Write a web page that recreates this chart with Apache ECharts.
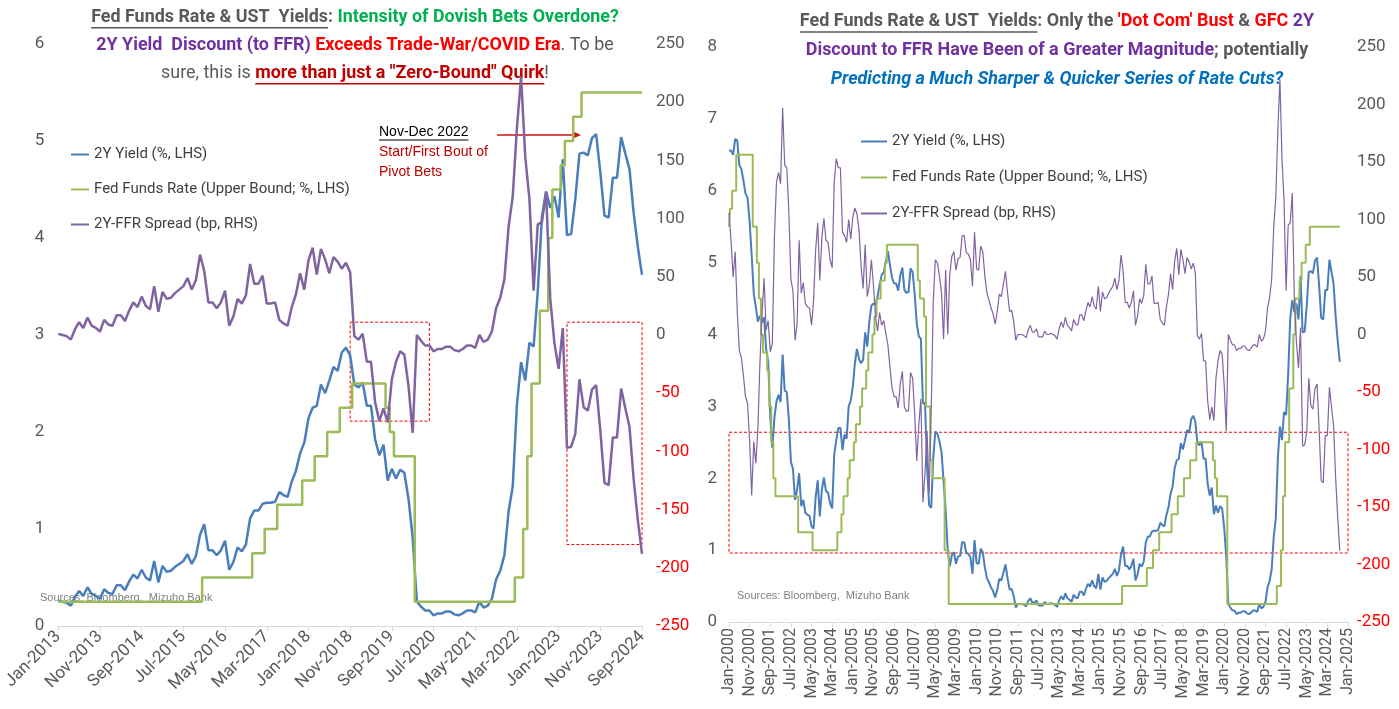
<!DOCTYPE html>
<html><head><meta charset="utf-8">
<script src="https://cdn.jsdelivr.net/npm/echarts@6/dist/echarts.min.js"></script>
<style>html,body{margin:0;padding:0;background:#fff}#c{width:1399px;height:709px}</style>
</head><body><div id="c"></div>
<script>
// ---------- tick labels / categories ----------
const monthAbbr = ['Jan','Feb','Mar','Apr','May','Jun','Jul','Aug','Sep','Oct','Nov','Dec'];
const firstYear = 2000, lastYear = 2025;
const monthsAll = [];
for (let y = firstYear; y <= lastYear; y++) for (let m = 0; m < 12; m++) {
  if (y === lastYear && m > 0) break;
  monthsAll.push(monthAbbr[m] + '-' + y);
}
const leftStart = 'Jan-2013', leftEnd = 'Sep-2024';

// ---------- data (monthly, Jan-2000 .. Sep-2024) ----------
const ust2y = [
6.56,6.56,6.50,6.72,6.70,6.36,6.30,6.14,5.96,5.90,5.57,5.10,
4.57,4.38,4.18,4.26,4.17,4.24,3.79,3.62,2.85,2.42,2.84,3.07,
3.16,3.06,3.72,3.22,3.20,2.82,2.23,2.13,1.70,1.84,2.07,1.61,
1.70,1.52,1.49,1.48,1.33,1.30,1.74,1.97,1.47,1.84,2.01,1.82,
1.80,1.65,1.58,2.33,2.53,2.70,2.70,2.39,2.61,2.55,3.00,3.08,
3.27,3.60,3.80,3.66,3.60,3.65,4.03,3.83,4.18,4.40,4.43,4.41,
4.53,4.69,4.83,4.87,5.01,5.16,4.97,4.79,4.71,4.71,4.61,4.82,
4.93,4.62,4.58,4.59,4.92,4.87,4.56,4.15,3.97,3.94,3.04,3.05,
2.16,1.62,1.59,2.29,2.65,2.62,2.51,2.36,1.96,1.56,1.00,0.77,
0.93,0.97,0.81,0.91,0.92,1.11,1.11,0.96,0.95,0.90,0.67,1.14,
0.82,0.81,1.02,0.97,0.76,0.61,0.55,0.48,0.43,0.34,0.45,0.60,
0.58,0.69,0.80,0.61,0.45,0.46,0.36,0.20,0.25,0.25,0.25,0.24,
0.22,0.29,0.33,0.27,0.27,0.30,0.23,0.23,0.23,0.28,0.25,0.25,
0.26,0.25,0.24,0.21,0.30,0.36,0.31,0.40,0.33,0.31,0.28,0.38,
0.34,0.33,0.42,0.42,0.37,0.46,0.53,0.49,0.58,0.50,0.47,0.67,
0.45,0.62,0.56,0.57,0.61,0.64,0.67,0.74,0.64,0.72,0.94,1.05,
0.78,0.78,0.73,0.78,0.88,0.58,0.66,0.81,0.77,0.84,1.11,1.19,
1.19,1.26,1.27,1.27,1.28,1.38,1.35,1.33,1.49,1.60,1.78,1.89,
2.14,2.25,2.27,2.49,2.40,2.53,2.67,2.63,2.82,2.87,2.79,2.49,
2.46,2.51,2.27,2.27,1.92,1.76,1.87,1.50,1.62,1.52,1.61,1.58,
1.31,0.91,0.25,0.20,0.16,0.16,0.11,0.13,0.13,0.15,0.15,0.12,
0.11,0.13,0.16,0.16,0.14,0.25,0.19,0.21,0.28,0.48,0.57,0.73,
1.18,1.44,2.28,2.72,2.53,2.92,2.88,3.45,4.22,4.48,4.31,4.43,
4.21,4.81,4.03,4.04,4.40,4.87,4.88,4.85,5.03,5.07,4.68,4.23,
4.21,4.62,4.62,5.04,4.87,4.71,4.26,3.91,3.62
];
const ffrUpper = [
5.50,5.75,6.00,6.00,6.50,6.50,6.50,6.50,6.50,6.50,6.50,6.50,
5.50,5.50,5.00,4.50,4.00,3.75,3.75,3.50,3.00,2.50,2.00,1.75,
1.75,1.75,1.75,1.75,1.75,1.75,1.75,1.75,1.75,1.75,1.25,1.25,
1.25,1.25,1.25,1.25,1.25,1.00,1.00,1.00,1.00,1.00,1.00,1.00,
1.00,1.00,1.00,1.00,1.00,1.25,1.25,1.50,1.75,1.75,2.00,2.25,
2.25,2.50,2.75,2.75,3.00,3.25,3.25,3.50,3.75,3.75,4.00,4.25,
4.50,4.50,4.75,4.75,5.00,5.25,5.25,5.25,5.25,5.25,5.25,5.25,
5.25,5.25,5.25,5.25,5.25,5.25,5.25,5.25,4.75,4.50,4.50,4.25,
3.00,3.00,2.25,2.00,2.00,2.00,2.00,2.00,2.00,1.00,1.00,0.25,
0.25,0.25,0.25,0.25,0.25,0.25,0.25,0.25,0.25,0.25,0.25,0.25,
0.25,0.25,0.25,0.25,0.25,0.25,0.25,0.25,0.25,0.25,0.25,0.25,
0.25,0.25,0.25,0.25,0.25,0.25,0.25,0.25,0.25,0.25,0.25,0.25,
0.25,0.25,0.25,0.25,0.25,0.25,0.25,0.25,0.25,0.25,0.25,0.25,
0.25,0.25,0.25,0.25,0.25,0.25,0.25,0.25,0.25,0.25,0.25,0.25,
0.25,0.25,0.25,0.25,0.25,0.25,0.25,0.25,0.25,0.25,0.25,0.25,
0.25,0.25,0.25,0.25,0.25,0.25,0.25,0.25,0.25,0.25,0.25,0.50,
0.50,0.50,0.50,0.50,0.50,0.50,0.50,0.50,0.50,0.50,0.50,0.75,
0.75,0.75,1.00,1.00,1.00,1.25,1.25,1.25,1.25,1.25,1.25,1.50,
1.50,1.50,1.75,1.75,1.75,2.00,2.00,2.00,2.25,2.25,2.25,2.50,
2.50,2.50,2.50,2.50,2.50,2.50,2.50,2.25,2.00,1.75,1.75,1.75,
1.75,1.75,0.25,0.25,0.25,0.25,0.25,0.25,0.25,0.25,0.25,0.25,
0.25,0.25,0.25,0.25,0.25,0.25,0.25,0.25,0.25,0.25,0.25,0.25,
0.25,0.25,0.50,0.50,1.00,1.75,2.50,2.50,3.25,3.25,4.00,4.50,
4.50,4.75,5.00,5.00,5.25,5.25,5.50,5.50,5.50,5.50,5.50,5.50,
5.50,5.50,5.50,5.50,5.50,5.50,5.50,5.50,5.50
];
// 2Y minus FFR, in basis points (derived from the two read series)
const spreadBp = ust2y.map((v, i) => Math.round((v - ffrUpper[i]) * 100));

const leftAxisTicks = [0, 6, 1];      // min, max, interval (%)
const rightLeftAxisTicks = [0, 8, 1];
const bpAxisTicks = [-250, 250, 50];

// ---------- derived slices for the left chart ----------
const i0 = monthsAll.indexOf(leftStart), i1 = monthsAll.indexOf(leftEnd) + 1;
const catsL = monthsAll.slice(i0, i1);
const yL = ust2y.slice(i0, i1), fL = ffrUpper.slice(i0, i1), sL = spreadBp.slice(i0, i1);

const names = ['2Y Yield (%, LHS)', 'Fed Funds Rate (Upper Bound; %, LHS)', '2Y-FFR Spread (bp, RHS)'];
const BLUE = '#4A7EBB', GREEN = '#9BBB59', PURPLE = '#8064A2', GRAY = '#595959';
const NF = "'Liberation Sans Narrow', 'Arial Narrow', Roboto, sans-serif";
const AF = "'Liberation Sans', Arial, sans-serif";

// ---------- text measuring for titles ----------
const mctx = document.createElement('canvas').getContext('2d');
function tw(font, text) { mctx.font = font; return mctx.measureText(text).width; }
function fontOf(seg, size) { return (seg.i ? 'italic ' : '') + (seg.b ? 'bold ' : '') + size.toFixed(2) + 'px ' + NF; }
function buildTitle(lines, cx, ys, targetW, base) {
  const measure = (line, size) => line.reduce((s, seg) => s + tw(fontOf(seg, size), seg.t), 0);
  const size = base * targetW / measure(lines[0], base);
  const els = [];
  lines.forEach((line, li) => {
    const w = measure(line, size);
    let x = cx - w / 2;
    line.forEach(seg => {
      const f = fontOf(seg, size), sw = tw(f, seg.t);
      els.push({type: 'text', x: x, y: ys[li], silent: true,
        style: {text: seg.t, font: f, fill: seg.c, textAlign: 'left', textVerticalAlign: 'middle'}});
      if (seg.u) els.push({type: 'line', silent: true,
        shape: {x1: x, y1: ys[li] + size * 0.55, x2: x + sw, y2: ys[li] + size * 0.55},
        style: {stroke: seg.uc || seg.c, lineWidth: 1.5}});
      x += sw;
    });
  });
  return els;
}
const titleL = [
  [{t: 'Fed Funds Rate & UST  Yields', c: GRAY, b: 1, u: 1}, {t: ': ', c: GRAY, b: 1}, {t: 'Intensity of Dovish Bets Overdone?', c: '#00B050', b: 1}],
  [{t: '2Y Yield  Discount (to FFR) ', c: '#7030A0', b: 1}, {t: 'Exceeds Trade-War/COVID Era', c: '#FF0000', b: 1}, {t: '. To be', c: GRAY}],
  [{t: 'sure, this is ', c: GRAY}, {t: 'more than just a "Zero-Bound" Quirk', c: '#C00000', b: 1, u: 1}, {t: '!', c: GRAY}]
];
const titleR = [
  [{t: 'Fed Funds Rate & UST  Yields', c: GRAY, b: 1, u: 1}, {t: ': Only the ', c: GRAY, b: 1}, {t: "'Dot Com' Bust", c: '#FF0000', b: 1},
   {t: ' & ', c: GRAY, b: 1}, {t: 'GFC', c: '#FF0000', b: 1}, {t: ' 2Y', c: '#7030A0', b: 1}],
  [{t: 'Discount to FFR Have Been of a Greater Magnitude', c: '#7030A0', b: 1}, {t: '; potentially', c: GRAY, b: 1}],
  [{t: 'Predicting a Much Sharper & Quicker Series of Rate Cuts?', c: '#0070C0', b: 1, i: 1}]
];

const graphics = [].concat(
  buildTitle(titleL, 355, [18, 46, 74], 528, 20),
  buildTitle(titleR, 1057, [22, 51, 80], 515, 20),
  [
    {type: 'text', x: 379, y: 132, silent: true, style: {text: 'Nov-Dec 2022', font: '14px ' + AF, fill: '#000', textVerticalAlign: 'middle'}},
    {type: 'line', silent: true, shape: {x1: 379, y1: 140, x2: 379 + tw('14px ' + AF, 'Nov-Dec 2022'), y2: 140}, style: {stroke: '#000', lineWidth: 1}},
    {type: 'text', x: 379, y: 152, silent: true, style: {text: 'Start/First Bout of', font: '14px ' + AF, fill: '#C00000', textVerticalAlign: 'middle'}},
    {type: 'text', x: 379, y: 172, silent: true, style: {text: 'Pivot Bets', font: '14px ' + AF, fill: '#C00000', textVerticalAlign: 'middle'}},
    {type: 'line', silent: true, shape: {x1: 497, y1: 135, x2: 574, y2: 135}, style: {stroke: '#D01010', lineWidth: 1.3}},
    {type: 'polygon', silent: true, shape: {points: [[572, 131], [581, 135], [572, 139]]}, style: {fill: '#D01010'}},
    {type: 'text', x: 40, y: 598, silent: true, style: {text: 'Sources: Bloomberg,  Mizuho Bank', font: '11px ' + AF, fill: '#7F7F7F', textVerticalAlign: 'middle'}},
    {type: 'text', x: 737, y: 596, silent: true, style: {text: 'Sources: Bloomberg,  Mizuho Bank', font: '11px ' + AF, fill: '#7F7F7F', textVerticalAlign: 'middle'}}
  ]
);

function xAx(grid, data, rot, fs, margin) {
  return {type: 'category', gridIndex: grid, data: data, boundaryGap: false,
    axisLine: {lineStyle: {color: '#D9D9D9'}},
    axisTick: {interval: 9, length: 5, lineStyle: {color: '#D9D9D9'}},
    axisLabel: {interval: 9, rotate: rot, color: GRAY, fontSize: fs, fontFamily: NF, margin: margin},
    splitLine: {show: false}};
}
function yAx(grid, t, right, margin) {
  return {type: 'value', gridIndex: grid, position: right ? 'right' : 'left', min: t[0], max: t[1], interval: t[2],
    splitLine: {show: false}, axisLine: {show: false}, axisTick: {show: false},
    axisLabel: {fontSize: 17, fontFamily: NF, margin: margin, color: v => (v < 0 ? '#FF0000' : GRAY)}};
}
const boxStyle = {color: 'rgba(0,0,0,0)', borderColor: '#FF0000', borderWidth: 1, borderType: [3, 2]};

const option = {
  animation: false,
  backgroundColor: '#fff',
  grid: [{left: 53, top: 44, width: 589, height: 582}, {left: 729, top: 47, width: 619, height: 575}],
  xAxis: [xAx(0, catsL, 45, 17, 8), xAx(1, monthsAll, 90, 16, 6)],
  yAxis: [yAx(0, leftAxisTicks, false, 14), yAx(0, bpAxisTicks, true, 14), yAx(1, rightLeftAxisTicks, false, 12), yAx(1, bpAxisTicks, true, 9)],
  legend: [
    {left: 66, top: 142, orient: 'vertical', itemGap: 20, itemWidth: 18, itemHeight: 2, icon: 'rect', data: names,
      textStyle: {color: '#404040', fontSize: 15, fontFamily: NF}},
    {left: 856, top: 129, orient: 'vertical', itemGap: 21, itemWidth: 26, itemHeight: 2, icon: 'rect', data: names,
      textStyle: {color: '#404040', fontSize: 15, fontFamily: NF}}
  ],
  graphic: graphics,
  series: [
    {name: names[0], type: 'line', xAxisIndex: 0, yAxisIndex: 0, data: yL, showSymbol: false, symbol: 'none', lineStyle: {color: BLUE, width: 2.5}, itemStyle: {color: BLUE}},
    {name: names[1], type: 'line', step: 'middle', xAxisIndex: 0, yAxisIndex: 0, data: fL, showSymbol: false, symbol: 'none', lineStyle: {color: GREEN, width: 2.5}, itemStyle: {color: GREEN}},
    {name: names[2], type: 'line', xAxisIndex: 0, yAxisIndex: 1, data: sL, showSymbol: false, symbol: 'none', lineStyle: {color: PURPLE, width: 2.5}, itemStyle: {color: PURPLE},
      markArea: {silent: true, itemStyle: boxStyle, data: [
        [{xAxis: 'Nov-2018', yAxis: 11}, {xAxis: 'Jun-2020', yAxis: -74}],
        [{xAxis: 'Mar-2023', yAxis: 11}, {xAxis: 'Sep-2024', yAxis: -180}]
      ]}},
    {name: names[0], type: 'line', xAxisIndex: 1, yAxisIndex: 2, data: ust2y, showSymbol: false, symbol: 'none', lineStyle: {color: BLUE, width: 2}, itemStyle: {color: BLUE}},
    {name: names[1], type: 'line', step: 'middle', xAxisIndex: 1, yAxisIndex: 2, data: ffrUpper, showSymbol: false, symbol: 'none', lineStyle: {color: GREEN, width: 2}, itemStyle: {color: GREEN}},
    {name: names[2], type: 'line', xAxisIndex: 1, yAxisIndex: 3, data: spreadBp, showSymbol: false, symbol: 'none', lineStyle: {color: PURPLE, width: 1.2}, itemStyle: {color: PURPLE},
      markArea: {silent: true, itemStyle: boxStyle, data: [
        [{xAxis: 'Jan-2000', yAxis: -85}, {xAxis: 'Jan-2025', yAxis: -190}]
      ]}}
  ]
};
const chart = echarts.init(document.getElementById('c'), null, {renderer: 'canvas'});
chart.setOption(option);
</script>
</body></html>
